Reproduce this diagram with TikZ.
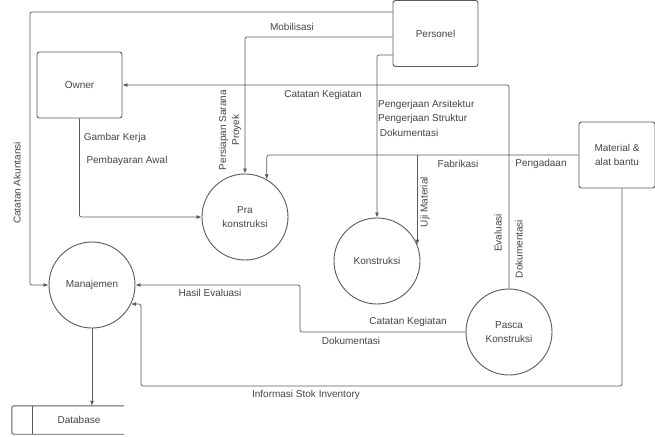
\documentclass[tikz,border=0pt]{standalone}
\usepackage{fontspec}
\setmainfont{Liberation Sans}
\usetikzlibrary{arrows.meta}
\definecolor{linegray}{HTML}{5A5A5A}
\definecolor{textgray}{HTML}{444444}
\begin{document}
\begin{tikzpicture}[x=1pt,y=-1pt,
    font=\fontsize{10}{14.5}\selectfont, text=textgray,
    entity/.style={shape=rectangle,draw=linegray,line width=0.9pt,rounded corners=2.5pt,
      minimum width=85pt,minimum height=66pt,align=center},
    proc/.style={shape=circle,draw=linegray,line width=0.9pt,minimum size=86pt,inner sep=0pt,align=center},
    flow/.style={draw=linegray,line width=0.7pt,rounded corners=2pt,-{Latex[length=5pt,width=4pt]}},
    lbl/.style={inner sep=1pt,align=center}]
    \useasboundingbox (0,0) rectangle (655,436);

    \node[entity] (pers) at (435.5,33.5) {Personel};
    \node[entity] (owner) at (79.5,85) {Owner};
    \node[entity,minimum width=76pt] (mat) at (617,155) {Material \&\\alat bantu};

    \node[proc] (pra) at (245,217) {Pra\\konstruksi};
    \node[proc] (mgr) at (92,285) {Manajemen};
    \node[proc] (kon) at (377,261) {Konstruksi};
    \node[proc] (pasca) at (509,332) {Pasca\\Konstruksi};

    \node[minimum width=112pt,minimum height=28pt,inner sep=0pt] (db) at (68,420) {};
    \draw[linegray,line width=0.9pt,rounded corners=2pt] (db.north east) -- (db.north west) -- (db.south west) -- (db.south east);
    \draw[linegray,line width=0.9pt] ([xshift=21pt]db.north west) -- ([xshift=21pt]db.south west);
    \node (dbtext) at (79,420) {Database};

    \coordinate (uji) at (kon.22 |- mat.west);

    \path [flow] ([yshift=-12pt]pers.north west) -| (30,285) -- (mgr.west);
    \path [flow] ([yshift=-37pt]pers.north west) -| (pra.north);
    \path [flow] ([yshift=-55pt]pers.north west) -| (kon.north);
    \path [flow] (pasca.north) |- (owner.east);
    \path [flow] (owner.south) |- (pra.west);
    \path [flow] (mat.west) -| (pra.60);
    \path [flow] (uji) -- (uji |- kon.22);
    \path [flow] (pasca.west) -| (300,285) -- (mgr.east);
    \path [flow] ([xshift=5pt]mat.south) |- (141,386) |- (mgr.-26);
    \path [flow] (mgr.south) -- (mgr.south |- db.north);

    \node[lbl,rotate=90] (lakun) at (17,183) {Catatan Akuntansi};
    \node[lbl] (lmob) at (292,27) {Mobilisasi};
    \node[lbl,rotate=90,font=\fontsize{10}{13}\selectfont] (lpers) at (230,130) {Persiapan Sarana\\Proyek};
    \node[lbl] (lcat1) at (323,95) {Catatan Kegiatan};
    \node[lbl] (lgam) at (115,138) {Gambar Kerja};
    \node[lbl] (lbay) at (127,161) {Pembayaran Awal};
    \node[lbl,anchor=north west,align=left] (lkerja) at (377,99) {Pengerjaan Arsitektur\\Pengerjaan Struktur\\\,Dokumentasi};
    \node[lbl] (lfab) at (458,164) {Fabrikasi};
    \node[lbl] (lada) at (541,164) {Pengadaan};
    \node[lbl,rotate=90] (luji) at (425,202) {Uji Material};
    \node[lbl,rotate=90] (leva) at (498,233) {Evaluasi};
    \node[lbl,rotate=90] (ldok1) at (519,249) {Dokumentasi};
    \node[lbl] (lhas) at (210,293) {Hasil Evaluasi};
    \node[lbl] (lcat2) at (408,322) {Catatan Kegiatan};
    \node[lbl] (ldok2) at (351,341) {Dokumentasi};
    \node[lbl] (linf) at (306,395) {Informasi Stok Inventory};
\end{tikzpicture}
\end{document}
